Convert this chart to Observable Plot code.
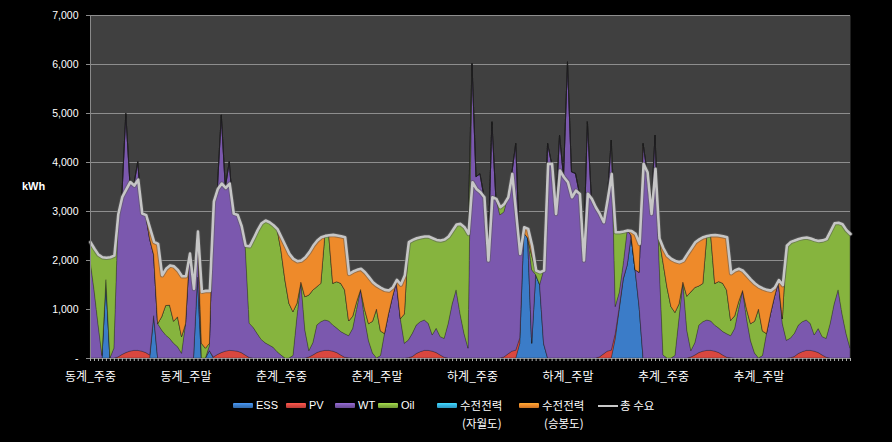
<!DOCTYPE html>
<html><head><meta charset="utf-8">
<script src="https://cdn.jsdelivr.net/npm/d3@7"></script>
<script src="https://cdn.jsdelivr.net/npm/@observablehq/plot@0.6"></script>
<style>
html,body{margin:0;padding:0;background:#000;}
#wrap{position:relative;width:892px;height:442px;background:#000;overflow:hidden;font-family:"Liberation Sans","Noto Sans CJK KR",sans-serif;}
#chart{position:absolute;left:0;top:0;}
#ylab{position:absolute;left:22px;top:180px;color:#fff;font-size:11px;font-weight:bold;}
.sw{position:absolute;width:20px;height:5px;border-radius:1px;}
.ln{position:absolute;width:20px;height:2px;background:#c8c8c8;}
.tx{position:absolute;color:#fff;font-size:11px;line-height:14px;white-space:nowrap;}
.kr{font-family:"Noto Sans CJK KR",sans-serif;font-size:11.5px;}
</style></head>
<body><div id="wrap"><div id="chart"></div><div id="ylab">kWh</div><div id="legend"></div></div>
<script>
const categories = ["동계_주중","동계_주말","춘계_주중","춘계_주말","하계_주중","하계_주말","추계_주중","추계_주말"];
const seriesNames = ["ESS","PV","WT","Oil","수전전력(자월도)","수전전력(승봉도)"];
const totalName = "총 수요";
const yTicks = [0,1000,2000,3000,4000,5000,6000,7000];

const ess = [
0,0,0,0,1600,0,0,0,0,0,0,0,0,0,0,0,850,0,0,0,0,0,0,0,
0,0,0,1650,0,0,150,0,0,0,0,0,0,0,0,0,0,0,0,0,0,0,0,0,
0,0,0,0,0,0,0,0,0,0,0,0,0,0,0,0,0,0,0,0,0,0,0,0,
0,0,0,0,0,0,0,0,0,0,0,0,0,0,0,0,0,0,0,0,0,0,0,0,
0,0,0,0,0,0,0,0,0,0,0,0,300,2550,2450,300,1700,1500,295,0,0,0,0,0,
0,0,0,0,0,0,0,0,0,0,0,0,400,1000,1600,1900,2500,1800,1050,0,0,0,0,0,
0,0,0,0,0,0,0,0,0,0,0,0,0,0,0,0,0,0,0,0,0,0,0,0,
0,0,0,0,0,0,0,0,0,0,0,0,0,0,0,0,0,0,0,0,0,0,0,0];
const pv = [
0,0,0,0,0,0,0,20,70,110,140,155,155,140,110,60,15,0,0,0,0,0,0,0,
0,0,0,0,0,0,0,20,70,110,140,155,150,140,110,60,10,0,0,0,0,0,0,0,
0,0,0,0,0,0,0,20,60,110,140,155,155,140,110,60,15,5,0,0,0,0,0,0,
0,0,0,0,0,0,0,0,5,30,90,130,155,155,140,110,60,15,0,0,0,0,0,0,
0,0,0,0,0,0,0,0,20,80,140,160,110,0,0,0,0,0,0,0,0,0,0,0,
0,0,0,0,0,0,0,0,20,80,140,160,100,40,20,0,0,0,0,0,0,0,0,0,
0,0,0,0,0,0,0,20,60,110,140,155,155,140,110,60,15,5,0,0,0,0,0,0,
0,0,0,0,0,0,0,0,5,30,90,130,155,155,140,110,60,15,0,0,0,0,0,0];
const wt = [
2000,1400,700,50,0,0,200,2700,3230,4880,3460,3375,3850,2820,2815,2370,1245,700,570,470,400,300,230,95,
700,2140,1420,940,0,0,100,3180,3390,4850,3340,3850,2810,2790,2590,2240,700,625,500,380,310,265,220,130,
60,0,0,50,843,1550,570,130,250,563,600,620,600,533,500,480,480,450,600,1000,1400,800,350,100,
0,50,500,900,1250,1550,800,300,360,473,583,611,620,552,329,495,375,385,700,1100,1390,900,500,200,
6010,3700,3760,3300,2000,4820,3257,2920,2960,3211,3627,4220,1725,0,0,1500,0,0,1500,4380,3971,2951,4549,3700,
6045,3800,3767,3359,2000,4821,3257,3087,2930,2701,3117,4287,550,300,300,711,0,0,700,4379,3801,2951,4549,2000,
60,0,0,50,800,1550,560,130,250,560,600,620,600,530,500,480,480,450,600,1000,1380,800,350,100,
0,50,500,900,1250,1550,700,360,400,470,580,610,620,550,330,490,375,385,700,1100,1390,900,500,200];
const oil = [
373,840,1420,2017,455,2067,1900,230,0,0,0,0,0,0,0,0,0,0,270,600,680,450,610,340,
0,0,0,0,300,200,50,0,0,0,0,0,0,0,0,0,1580,1825,2120,2380,2505,2515,2500,2510,
2140,1590,1115,895,272,0,680,1135,1077,782,782,1727,1761,850,947,983,892,300,250,150,0,200,350,650,
1000,500,0,0,0,0,0,600,2008,1917,1782,1734,1714,1782,1986,1815,1972,2028,1789,1511,1344,1847,2180,2343,
0,0,0,0,0,0,0,167,175,0,0,0,0,0,0,300,95,261,0,0,0,0,0,0,
0,0,0,0,0,0,0,0,0,0,0,0,1527,1237,670,0,0,0,0,0,0,0,0,450,
1900,1450,1050,880,300,0,700,1200,1130,800,780,1725,1760,850,950,985,890,310,260,150,0,200,350,650,
1000,500,0,0,0,0,100,1940,1975,1910,1770,1720,1695,1745,1950,1800,1975,2040,1900,1660,1380,1840,2120,2340];
const gridJawoldo = [
0,0,0,0,0,0,0,0,0,0,0,0,0,0,0,0,0,0,0,0,0,0,0,0,
0,0,0,0,0,0,0,0,0,0,0,0,0,0,0,0,0,0,0,0,0,0,0,0,
0,0,0,0,0,0,0,0,0,0,0,0,0,0,0,0,0,0,0,0,0,0,0,0,
0,0,0,0,0,0,0,0,0,0,0,0,0,0,0,0,0,0,0,0,0,0,0,0,
0,0,0,0,0,0,0,0,0,0,0,0,0,0,0,0,0,0,0,0,0,0,0,0,
0,0,0,0,0,0,0,0,0,0,0,0,0,0,0,0,0,0,0,0,0,0,0,0,
0,0,0,0,0,0,0,0,0,0,0,0,0,0,0,0,0,0,0,0,0,0,0,0,
0,0,0,0,0,0,0,0,0,0,0,0,0,0,0,0,0,0,0,0,0,0,0,0];
const gridSeungbongdo = [
0,0,0,0,0,0,0,0,0,0,0,0,0,0,0,220,270,1640,860,760,820,1130,960,1245,
980,0,0,0,1060,1180,1080,0,0,0,0,0,0,0,0,0,0,0,0,0,0,0,0,0,
275,715,1020,1088,871,450,817,885,918,952,953,0,0,1000,952,972,1088,972,925,659,430,761,960,807,
490,892,900,487,205,55,710,800,0,0,0,0,0,0,0,0,0,0,0,0,0,0,0,0,
0,0,0,0,0,0,0,0,0,0,0,0,0,129,195,200,0,0,0,0,0,0,0,0,
0,0,0,0,0,0,0,0,0,0,0,0,0,0,0,0,100,743,589,0,0,0,0,0,
290,650,980,1060,865,450,870,900,933,960,955,0,0,1000,950,970,1090,975,940,680,410,700,910,780,
470,880,900,485,200,50,700,0,0,0,0,0,0,0,0,0,0,0,0,0,0,0,0,0];
const totalDemand = [
2373,2240,2120,2067,2055,2067,2100,2950,3300,3450,3600,3530,3650,2960,2925,2650,2380,2340,1700,1830,1900,1880,1800,1680,
1680,2140,1420,2590,1360,1380,1380,3200,3460,3570,3480,3570,2960,2930,2700,2300,2290,2450,2620,2760,2815,2780,2720,2640,
2475,2305,2135,2033,1986,2000,2067,2170,2305,2407,2475,2502,2516,2523,2509,2495,2475,1727,1775,1809,1830,1761,1660,1557,
1490,1442,1400,1387,1455,1605,1510,1700,2373,2420,2455,2475,2489,2489,2455,2420,2407,2428,2489,2611,2734,2747,2680,2543,
3597,3461,3393,3291,2000,3291,3257,3087,3155,3291,3767,2950,2135,2679,2645,2300,1795,1761,1795,3971,3971,2951,3835,3699,
3597,3291,3427,3359,2000,3359,3257,3087,2950,2781,3257,3767,2577,2577,2590,2611,2600,2543,2339,3971,3801,2951,3869,2450,
2250,2100,2030,1990,1965,2000,2130,2250,2373,2430,2475,2500,2515,2520,2510,2495,2475,1740,1800,1830,1790,1700,1610,1530,
1470,1430,1400,1385,1450,1600,1500,2300,2380,2410,2440,2460,2470,2450,2420,2400,2410,2440,2600,2760,2770,2740,2620,2540];

const colors = ["#3b7cc8","#d9473f","#7b58ae","#86b43e","#35b3e0","#ee8a2a"];
const valuesBySeries = [ess, pv, wt, oil, gridJawoldo, gridSeungbongdo];
const hours = d3.range(totalDemand.length);
const rows = [];
seriesNames.forEach((name, k) => hours.forEach(h => rows.push({h, s: name, v: valuesBySeries[k][h]})));
const labelHours = categories.map((c, i) => i * 24);

const chart = Plot.plot({
  width: 892, height: 392,
  marginLeft: 90, marginRight: 42, marginTop: 15, marginBottom: 34,
  style: {background: "transparent", color: "#fff", fontFamily: "'Liberation Sans','Noto Sans CJK KR',sans-serif", fontSize: "11px"},
  x: {domain: [0, hours.length - 1], label: null},
  y: {domain: [0, 7000], label: null},
  color: {domain: seriesNames, range: colors},
  marks: [
    Plot.frame({fill: "#404040", stroke: null}),
    Plot.ruleY(yTicks.slice(1), {stroke: "#8e8e8e", strokeWidth: 1}),
    Plot.areaY(rows, {x: "h", y: "v", z: "s", fill: "s", stroke: "#1c1c1c", strokeOpacity: 0.45, strokeWidth: 0.7}),
    Plot.lineY(hours, {x: d => d, y: d => totalDemand[d], stroke: "#5a5a5a", strokeWidth: 4.5, strokeOpacity: 0.55}),
    Plot.lineY(hours, {x: d => d, y: d => totalDemand[d], stroke: "#c6c6c6", strokeWidth: 2.6}),
    Plot.ruleX([0], {stroke: "#8a8a8a"}),
    Plot.ruleY([0], {stroke: "#8a8a8a"}),
    Plot.axisY({ticks: yTicks, label: null, tickFormat: d => d === 0 ? "-" : d3.format(",")(d), tickSize: 4, tickPadding: 8, fontSize: 10.5, stroke: "#8a8a8a"}),
    Plot.axisX({ticks: hours, label: null, tickSize: 3, tickFormat: () => "", stroke: "#b0b0b0"}),
    Plot.axisX({ticks: labelHours, label: null, tickSize: 0, tickPadding: 14, tickFormat: h => categories[h / 24], fontSize: 12, fontFamily: "'Noto Sans CJK KR',sans-serif"})
  ]
});
document.getElementById("chart").appendChild(chart);

// legend
const legend = document.getElementById("legend");
const items = [
  {label: ["ESS"], sw: 233, tx: 256, color: colors[0]},
  {label: ["PV"], sw: 286, tx: 309, color: colors[1]},
  {label: ["WT"], sw: 335, tx: 358, color: colors[2]},
  {label: ["Oil"], sw: 378, tx: 401, color: colors[3]},
  {label: ["수전전력", "(자월도)"], sw: 437, tx: 460, color: colors[4], kr: true},
  {label: ["수전전력", "(승봉도)"], sw: 519, tx: 542, color: colors[5], kr: true},
  {label: [totalName], sw: 598, tx: 620, line: true, kr: true}
];
for (const it of items) {
  const s = document.createElement("div");
  if (it.line) { s.className = "ln"; s.style.left = it.sw + "px"; s.style.top = "405px"; }
  else {
    s.className = "sw"; s.style.left = it.sw + "px"; s.style.top = "403px";
    s.style.background = `linear-gradient(${d3.color(it.color).brighter(0.6)}, ${it.color} 50%, ${d3.color(it.color).darker(0.5)})`;
  }
  legend.appendChild(s);
  it.label.forEach((line, j) => {
    const t = document.createElement("div");
    t.className = "tx" + (it.kr ? " kr" : "");
    t.textContent = line;
    t.style.left = (it.tx + (j ? 2 : 0)) + "px";
    t.style.top = (398 + j * 18) + "px";
    legend.appendChild(t);
  });
}
</script></body></html>
